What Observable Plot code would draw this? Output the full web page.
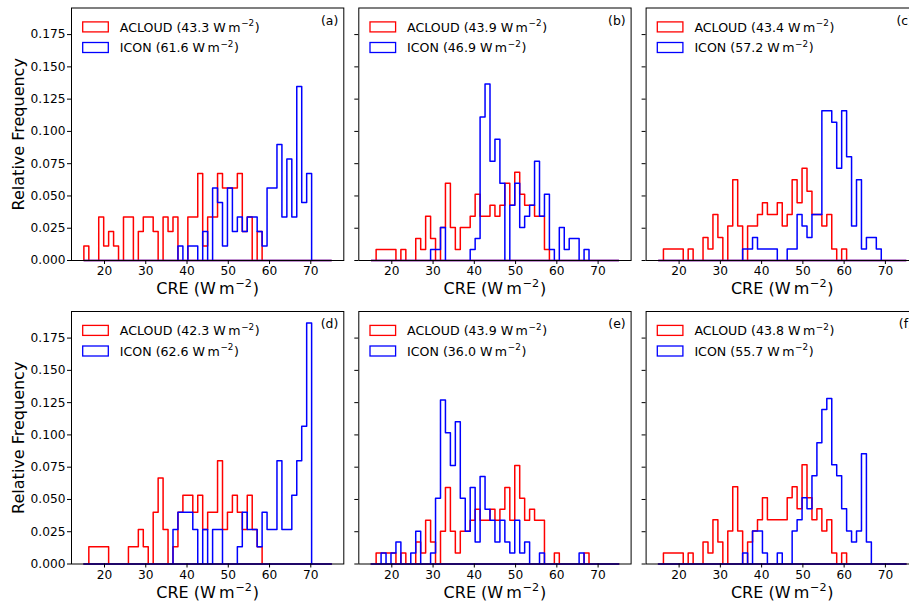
<!DOCTYPE html>
<html>
<head>
<meta charset="utf-8">
<script src="https://cdn.jsdelivr.net/npm/d3@7"></script>
<script src="https://cdn.jsdelivr.net/npm/@observablehq/plot@0.6"></script>
<style>
  html, body { margin: 0; padding: 0; background: white; overflow: hidden; }
  #fig { position: relative; width: 909px; height: 604px; overflow: hidden; background: white; }
  #fig svg { position: absolute; }
</style>
</head>
<body>
<div id="fig"></div>
<script>
// ---------- data ----------
const panelLabels = ["(a)", "(b)", "(c)", "(d)", "(e)", "(f)"];
const acloudMeans = [43.3, 43.9, 43.4, 42.3, 43.9, 43.8];
const iconMeans   = [61.6, 46.9, 57.2, 62.6, 36.0, 55.7];
// number of samples per panel (relative frequency = count / N)
const sampleCounts = [89, 117, 112, 75, 118, 117];
// histogram bin edges (CRE, W m-2)
const binEdges = [15, 16.2, 17.4, 18.6, 19.8, 21, 22.2, 23.4, 24.6, 25.8,
  27, 28.2, 29.4, 30.6, 31.8, 33, 34.2, 35.4, 36.6, 37.8,
  39, 40.2, 41.4, 42.6, 43.8, 45, 46.2, 47.4, 48.6, 49.8,
  51, 52.2, 53.4, 54.6, 55.8, 57, 58.2, 59.4, 60.6, 61.8,
  63, 64.2, 65.4, 66.6, 67.8, 69, 70.2, 71.4, 72.6, 73.8, 75];
// counts per bin
const acloudCounts = [
  [1,0,0,3,1,2,1,0,3,3, 0,2,3,3,2,0,3,2,3,0, 0,3,3,6,1,3,3,6,5,5, 5,6,2,3,0,2,0,0,0,0, 0,0,0,0,0,0,0,0,0,0],
  [0,1,1,1,1,0,1,0,0,2, 1,4,2,0,3,7,3,1,3,3, 4,6,4,4,5,4,5,7,5,8, 6,5,5,4,4,1,0,0,0,0, 0,0,0,0,0,0,0,0,0,0],
  [0,1,1,1,1,0,1,0,0,2, 1,4,2,0,3,7,3,0,3,3, 4,5,4,4,5,3,4,7,5,8, 6,4,4,3,4,1,0,1,0,0, 0,0,0,0,0,0,0,0,0,0],
  [0,1,1,1,1,0,0,0,0,1, 1,2,1,0,3,5,2,0,1,3, 4,4,3,4,2,3,3,6,2,3, 4,3,2,4,2,1,0,0,0,0, 0,0,0,0,0,0,0,0,0,0],
  [0,1,1,1,1,0,1,0,0,2, 1,4,2,0,3,7,3,1,3,3, 4,5,4,4,5,4,5,7,4,9, 6,4,5,4,4,0,0,1,0,0, 0,0,0,1,0,0,0,0,0,0],
  [0,1,1,1,1,0,1,0,0,2, 1,4,2,0,3,7,3,0,2,3, 4,6,4,4,4,4,6,7,5,9, 6,4,5,3,4,1,0,1,0,0, 0,0,0,0,0,0,0,0,0,0]
];
const iconCounts = [
  [0,0,0,0,0,0,0,0,0,0, 0,0,0,0,0,0,0,0,0,1, 0,1,1,0,2,0,5,4,1,5, 2,3,2,3,3,2,1,5,5,8, 3,7,3,12,4,6,0,0,0,0],
  [0,0,0,0,0,0,0,0,0,0, 0,0,1,1,3,0,0,0,0,0, 1,2,13,16,9,11,7,0,5,7, 3,4,5,9,4,6,1,0,3,1, 2,2,0,1,0,0,0,0,0,0],
  [0,0,0,0,0,0,0,0,0,0, 0,0,0,0,0,0,0,1,1,2, 1,1,1,1,0,0,1,1,4,3, 2,4,4,13,13,12,8,13,9,3, 7,1,2,2,1,0,0,0,0,0],
  [0,0,0,0,0,0,0,0,0,0, 0,0,0,0,0,0,0,0,2,3, 3,3,2,0,2,0,2,2,0,0, 0,1,3,2,2,1,3,2,2,6, 2,2,4,6,8,14,0,0,0,0],
  [0,0,1,0,1,2,0,0,1,3, 0,0,1,6,15,12,9,13,6,3, 7,2,8,5,4,2,4,2,1,4, 1,2,0,0,1,0,0,0,0,0, 0,0,1,0,0,0,0,0,0,0],
  [0,0,0,0,0,0,0,0,0,0, 0,0,0,0,0,0,0,1,0,3, 3,1,0,0,1,0,0,3,4,6, 5,8,11,14,15,9,8,5,3,2, 3,10,2,0,0,0,0,0,0,0]
];
const xTicks = [20, 30, 40, 50, 60, 70];
const yTicks = [0, 0.025, 0.05, 0.075, 0.1, 0.125, 0.15, 0.175];
const xDomain = [12, 78];
const yDomain = [0, 0.1956];

// ---------- layout ----------
const colLeft = [0, 350, 637], colWidth = [350, 287, 290];
const colML = [71, 8.3, 8.6], colMR = [6.7, 6.4, 9.1];
const rowTop = [0, 300], rowHeight = [300, 304];
const rowMT = [7.5, 11], rowMB = [40, 40.5];
const SUP = "\u207B\u00B2";           // marker replaced by a real superscript tspan
const unit = "W\u2009m" + SUP;

function stepOutline(counts, n) {
  const pts = [{x: binEdges[0], y: 0}];
  counts.forEach((c, k) => {
    pts.push({x: binEdges[k], y: c / n});
    pts.push({x: binEdges[k + 1], y: c / n});
  });
  pts.push({x: binEdges[binEdges.length - 1], y: 0});
  pts.push({x: binEdges[0], y: 0});
  return pts;
}

// turn "...W m⁻²)" into base text + superscript "−2" (like matplotlib mathtext)
function superscripts(svg) {
  d3.select(svg).selectAll("text").each(function () {
    const t = this.textContent;
    if (!t.includes(SUP)) return;
    const fs = parseFloat(getComputedStyle(this).fontSize) || 12;
    const [before, after] = t.split(SUP);
    const sel = d3.select(this);
    sel.text(null);
    sel.append("tspan").text(before);
    sel.append("tspan").attr("font-size", (fs * 0.7).toFixed(2) + "px").attr("dy", (-fs * 0.42).toFixed(2)).attr("dx", (fs * 0.05).toFixed(2)).text("\u22122");
    sel.append("tspan").attr("dy", (fs * 0.42).toFixed(2)).attr("dx", (fs * 0.05).toFixed(2)).text(after);
  });
}

const fig = document.getElementById("fig");
for (let i = 0; i < 6; i++) {
  const col = i % 3, row = Math.floor(i / 3);
  const n = sampleCounts[i];
  const svg = Plot.plot({
    width: colWidth[col],
    height: rowHeight[row],
    marginLeft: colML[col], marginRight: colMR[col],
    marginTop: rowMT[row], marginBottom: rowMB[row],
    style: {fontFamily: "DejaVu Sans", fontSize: "12.2px", color: "black", background: "transparent", overflow: "visible"},
    x: {domain: xDomain, label: null},
    y: {domain: yDomain, label: null},
    marks: [
      Plot.line(stepOutline(acloudCounts[i], n), {x: "x", y: "y", stroke: "red", strokeWidth: 1.5}),
      Plot.line(stepOutline(iconCounts[i], n), {x: "x", y: "y", stroke: "blue", strokeWidth: 1.5}),
      Plot.frame({stroke: "black", strokeWidth: 1}),
      Plot.axisX({ticks: xTicks, tickSize: 4, tickPadding: 2, label: null}),
      Plot.axisY({ticks: yTicks, tickFormat: col === 0 ? d3.format(".3f") : () => "", tickSize: 4, tickPadding: 2, label: null}),
      Plot.text([panelLabels[i]], {text: d => d, frameAnchor: "top-right", dx: -5.5, dy: 13, textAnchor: "end", lineAnchor: "middle", fontSize: 12.4}),
      Plot.text([`ACLOUD (${acloudMeans[i].toFixed(1)} ${unit})`], {text: d => d, frameAnchor: "top-left", dx: 48.3, dy: 19.6, textAnchor: "start", lineAnchor: "middle", fontSize: 12.6}),
      Plot.text([`ICON (${iconMeans[i].toFixed(1)} ${unit})`], {text: d => d, frameAnchor: "top-left", dx: 48.3, dy: 40.2, textAnchor: "start", lineAnchor: "middle", fontSize: 12.6}),
      Plot.text([`CRE (${unit})`], {text: d => d, frameAnchor: "bottom", dy: 28.5, fontSize: 16, textAnchor: "middle", lineAnchor: "middle"}),
      col === 0 ? Plot.text(["Relative Frequency"], {text: d => d, frameAnchor: "left", dx: -52.7, rotate: -90, fontSize: 16, textAnchor: "middle", lineAnchor: "middle"}) : null
    ]
  });
  // legend swatches
  const g = d3.select(svg).append("g").attr("fill", "none").attr("stroke-width", 1.3);
  const ml = colML[col], mt = rowMT[row];
  g.append("rect").attr("x", ml + 11.7).attr("y", mt + 14.4).attr("width", 25.6).attr("height", 10).attr("stroke", "red");
  g.append("rect").attr("x", ml + 11.7).attr("y", mt + 35).attr("width", 25.6).attr("height", 10).attr("stroke", "blue");
  svg.style.left = colLeft[col] + "px";
  svg.style.top = rowTop[row] + "px";
  fig.appendChild(svg);
  superscripts(svg);
}
</script>
</body>
</html>
